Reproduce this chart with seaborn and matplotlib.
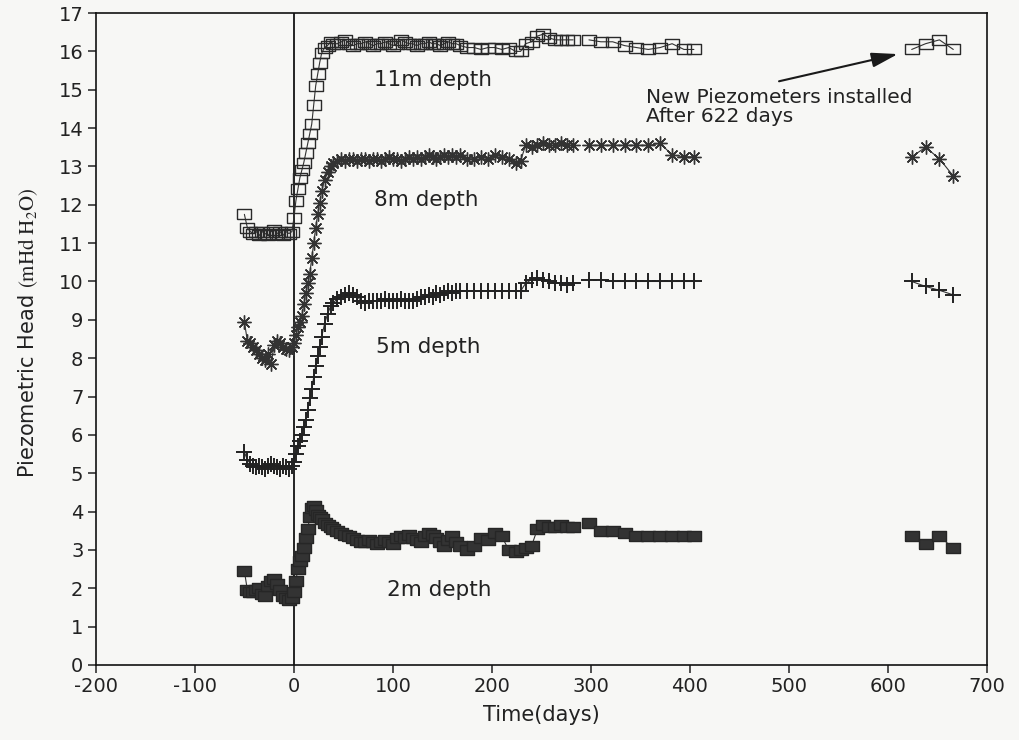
import numpy as np
import pandas as pd
import matplotlib
matplotlib.use("Agg")
import matplotlib.pyplot as plt
import seaborn as sns

# Measurement days (shared by all four piezometers)
days = [
    -50, -47, -44, -41, -38, -35, -32, -29, -26, -23, -20, -17, -14, -11, -8, -5, -2, 0,
    2, 4, 6, 8, 10, 12, 14, 16, 18, 20, 22, 24, 26, 28, 31, 34, 37, 40,
    44, 48, 52, 56, 60, 64, 68, 72, 76, 80, 84, 88, 92, 96, 100, 104,
    108, 112, 116, 120, 124, 128, 132, 136, 140, 144, 148, 152, 156, 160, 164, 168,
    175, 182, 189, 196, 203, 210, 217, 224, 229, 234, 240, 246, 252, 258, 264, 270, 276, 282,
    298, 310, 322, 334, 346, 358, 370, 382, 394, 404,
    624, 638, 652, 666,
]

head_11m = [
    11.75, 11.4, 11.3, 11.25, 11.3, 11.2, 11.3, 11.25, 11.2, 11.3, 11.35, 11.25, 11.3, 11.2, 11.3, 11.25, 11.3, 11.65,
    12.1, 12.4, 12.7, 12.9, 13.1, 13.35, 13.6, 13.85, 14.1, 14.6, 15.1, 15.4, 15.7, 15.95, 16.1, 16.15, 16.25, 16.2,
    16.2, 16.25, 16.3, 16.2, 16.15, 16.2, 16.2, 16.25, 16.2, 16.15, 16.2, 16.2, 16.25, 16.2, 16.15, 16.2,
    16.3, 16.25, 16.2, 16.2, 16.15, 16.2, 16.2, 16.25, 16.2, 16.2, 16.15, 16.2, 16.25, 16.2, 16.2, 16.15,
    16.1, 16.1, 16.05, 16.1, 16.1, 16.05, 16.1, 16.0, 16.0, 16.2, 16.25, 16.4, 16.45, 16.35, 16.3, 16.3, 16.3, 16.3,
    16.3, 16.25, 16.25, 16.15, 16.1, 16.05, 16.1, 16.2, 16.05, 16.05,
    16.05, 16.2, 16.3, 16.05,
]

head_8m = [
    8.95, 8.45, 8.4, 8.3, 8.2, 8.1, 8.0, 7.95, 8.1, 7.85, 8.35, 8.45, 8.4, 8.3, 8.25, 8.2, 8.3, 8.4,
    8.6, 8.8, 8.95, 9.1, 9.4, 9.7, 9.95, 10.2, 10.6, 11.0, 11.4, 11.75, 12.05, 12.35, 12.65, 12.85, 13.0, 13.1,
    13.15, 13.2, 13.15, 13.2, 13.2, 13.15, 13.2, 13.2, 13.15, 13.2, 13.2, 13.15, 13.2, 13.25, 13.2, 13.2,
    13.15, 13.2, 13.25, 13.2, 13.25, 13.2, 13.25, 13.3, 13.25, 13.2, 13.25, 13.3, 13.25, 13.3, 13.25, 13.3,
    13.2, 13.2, 13.25, 13.2, 13.3, 13.25, 13.2, 13.1, 13.15, 13.55, 13.5, 13.55, 13.6, 13.55, 13.55, 13.6, 13.55, 13.55,
    13.55, 13.55, 13.55, 13.55, 13.55, 13.55, 13.6, 13.3, 13.25, 13.25,
    13.25, 13.5, 13.2, 12.75,
]

head_5m = [
    5.55, 5.35, 5.25, 5.2, 5.15, 5.2, 5.15, 5.1, 5.2, 5.25, 5.2, 5.15, 5.1, 5.2, 5.15, 5.1, 5.2, 5.3,
    5.5, 5.7, 5.85, 6.0, 6.2, 6.4, 6.65, 6.95, 7.2, 7.5, 7.8, 8.05, 8.3, 8.55, 8.9, 9.15, 9.35, 9.45,
    9.55, 9.6, 9.65, 9.7, 9.65, 9.6, 9.5, 9.45, 9.5, 9.5, 9.5, 9.5, 9.55, 9.5, 9.5, 9.5,
    9.55, 9.5, 9.5, 9.5, 9.55, 9.6, 9.6, 9.65, 9.6, 9.7, 9.65, 9.7, 9.75, 9.7, 9.75, 9.75,
    9.75, 9.75, 9.75, 9.75, 9.75, 9.75, 9.75, 9.75, 9.75, 9.95, 10.05, 10.1, 10.05, 10.0, 9.95, 9.95, 9.9, 9.95,
    10.05, 10.05, 10.0, 10.0, 10.0, 10.0, 10.0, 10.0, 10.0, 10.0,
    10.0, 9.87, 9.77, 9.65,
]

head_2m = [
    2.45, 1.95, 1.9, 1.9, 1.95, 2.0, 1.85, 1.8, 2.05, 2.2, 2.25, 2.1, 1.95, 1.8, 1.75, 1.7, 1.75, 1.9,
    2.2, 2.5, 2.7, 2.85, 3.05, 3.3, 3.55, 3.85, 4.1, 4.15, 4.05, 3.9, 3.85, 3.8, 3.7, 3.65, 3.6, 3.55,
    3.5, 3.45, 3.4, 3.35, 3.3, 3.25, 3.2, 3.2, 3.25, 3.2, 3.15, 3.2, 3.25, 3.2, 3.15, 3.3,
    3.35, 3.3, 3.4, 3.3, 3.25, 3.2, 3.35, 3.45, 3.4, 3.3, 3.2, 3.1, 3.25, 3.35, 3.2, 3.1,
    3.0, 3.1, 3.3, 3.25, 3.45, 3.35, 3.0, 2.95, 3.0, 3.05, 3.1, 3.55, 3.65, 3.6, 3.6, 3.65, 3.6, 3.6,
    3.7, 3.5, 3.5, 3.45, 3.35, 3.35, 3.35, 3.35, 3.35, 3.35,
    3.35, 3.15, 3.35, 3.05,
]

depths = ["11m", "8m", "5m", "2m"]
depth_labels = ["11m depth", "8m depth", "5m depth", "2m depth"]
x_ticks = list(range(-200, 701, 100))
y_ticks = list(range(0, 18))
annotation_text = "New Piezometers installed\nAfter 622 days"

# ---- long-form table ------------------------------------------------------
series = dict(zip(depths, [head_11m, head_8m, head_5m, head_2m]))
df = pd.concat(
    [pd.DataFrame({"day": days, "head": v, "depth": k}) for k, v in series.items()],
    ignore_index=True,
)
# separate recording campaigns are drawn as unconnected runs
df["segment"] = np.select([df["day"] <= 285, df["day"] <= 450], [0, 1], 2)

# ---- style ------------------------------------------------------------------
sns.set_style("ticks")
plt.rcParams["font.family"] = ["DejaVu Sans"]
plt.rcParams["mathtext.fontset"] = "stix"
plt.rcParams["axes.unicode_minus"] = False
bg = "#f7f7f5"
ink = "#222222"

rect = [(-1.3, -1.0), (1.3, -1.0), (1.3, 1.0), (-1.3, 1.0), (-1.3, -1.0)]
marker_styles = {
    "11m": dict(marker=rect, markersize=10, markerfacecolor="none",
                markeredgecolor="#2a2a2a", markeredgewidth=1.0),
    "8m": dict(marker=(8, 2, 0), markersize=10, markeredgecolor="#333333",
               markeredgewidth=1.0),
    "5m": dict(marker="+", markersize=11, markeredgecolor="#222222",
               markeredgewidth=1.4),
    "2m": dict(marker=rect, markersize=10, markerfacecolor="#333333",
               markeredgecolor="#262626", markeredgewidth=1.0),
}

fig = plt.figure(figsize=(10.2, 7.4), dpi=100, facecolor=bg)
ax = fig.add_axes([0.094, 0.1014, 0.8736, 0.881])
ax.set_facecolor(bg)

ax.axvline(0, color="black", lw=1.2, zorder=1)

for d in depths:
    sns.lineplot(
        data=df[df["depth"] == d], x="day", y="head", units="segment",
        estimator=None, color="#333333", lw=0.8, legend=False, ax=ax,
        zorder=3, **marker_styles[d],
    )

# ---- depth labels -----------------------------------------------------------
label_pos = {"11m depth": (81, 15.26), "8m depth": (81, 12.12),
             "5m depth": (83, 8.3), "2m depth": (94, 1.96)}
for lab in depth_labels:
    x, y = label_pos[lab]
    ax.text(x, y, lab, fontsize=15.5, color=ink, ha="left", va="center")

ax.text(356, 14.55, annotation_text, fontsize=14.5, color=ink,
        ha="left", va="center", linespacing=1.0)
ax.annotate("", xy=(610, 15.93), xytext=(490, 15.22),
            arrowprops=dict(arrowstyle="-|>,head_length=1.6,head_width=0.45",
                            color="#1a1a1a", lw=1.5, shrinkA=0, shrinkB=0))

# ---- axes -------------------------------------------------------------------
ax.set_xlim(-200, 700)
ax.set_ylim(0, 17)
ax.set_xticks(x_ticks)
ax.set_yticks(y_ticks)
ax.tick_params(direction="out", length=6, width=1.1, labelsize=14,
               colors=ink, pad=3, top=False, right=False)
for s in ax.spines.values():
    s.set_color("#111111")
    s.set_linewidth(1.2)

ax.set_xlabel("Time(days)", fontsize=15, color=ink)
ax.set_ylabel(r"Piezometric Head $\mathrm{(mHd\ H_2O)}$", fontsize=15, color=ink)
ax.xaxis.set_label_coords(0.5, -0.061)
ax.yaxis.set_label_coords(-0.063, 0.51)

fig.savefig("out.png", dpi=100, facecolor=bg)
